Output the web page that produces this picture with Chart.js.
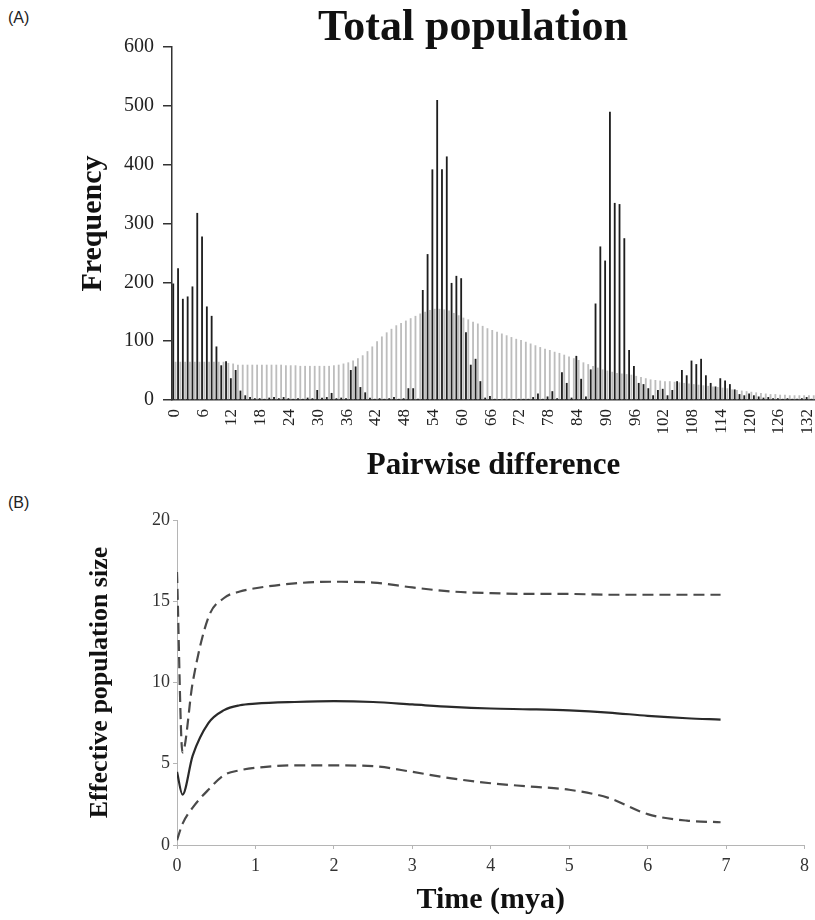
<!DOCTYPE html>
<html>
<head>
<meta charset="utf-8">
<script src="https://cdn.jsdelivr.net/npm/chart.js@4.4.1/dist/chart.umd.min.js"></script>
<style>
    html, body { margin: 0; padding: 0; background: #fff; }
    #page { position: relative; width: 815px; height: 920px; overflow: hidden; }
    .panel-tag { position: absolute; left: 8px; font: 16px 'Liberation Sans', Arial, sans-serif; color: #222; }
    #boxA { position: absolute; left: 0; top: 0; width: 815px; height: 490px; }
    #boxB { position: absolute; left: 0; top: 490px; width: 815px; height: 430px; }
</style>
</head>
<body>
<div id="page">
    <div class="panel-tag" style="top:9px">(A)</div>
    <div class="panel-tag" style="top:494px">(B)</div>
    <div id="boxA"><canvas id="mismatch"></canvas></div>
    <div id="boxB"><canvas id="skyline"></canvas></div>
</div>
<script>
// (A) mismatch distribution, pairwise differences 0..133
const pairwiseDiff = [];
for (let i = 0; i <= 133; i++) pairwiseDiff.push(String(i));

const observedFreq = [
    198, 224, 172, 176, 193, 318, 278, 159, 143, 91,
    59, 66, 37, 51, 16, 8, 5, 3, 3, 2,
    4, 5, 3, 5, 3, 2, 3, 2, 4, 3,
    17, 4, 5, 12, 3, 4, 3, 51, 57, 22,
    13, 4, 2, 3, 2, 3, 5, 2, 3, 20,
    20, 2, 187, 248, 392, 510, 392, 414, 199, 211,
    207, 115, 60, 70, 32, 4, 7, 2, 1, 2,
    2, 1, 2, 2, 2, 5, 11, 2, 6, 15,
    3, 47, 29, 4, 75, 36, 6, 52, 164, 261,
    237, 490, 335, 333, 275, 85, 58, 29, 27, 20,
    8, 17, 19, 8, 17, 32, 51, 42, 67, 61,
    70, 42, 29, 23, 37, 33, 27, 18, 10, 8,
    11, 8, 6, 4, 5, 3, 3, 2, 3, 2,
    2, 3, 5, 2
];

const expectedFreq = [
    65, 65, 65, 65, 65, 65, 65, 65, 65, 65,
    65, 63, 62, 60, 60, 60, 60, 60, 60, 60,
    60, 60, 60, 59, 59, 59, 58, 58, 58, 58,
    58, 58, 58, 59, 60, 62, 64, 67, 71, 76,
    83, 91, 100, 108, 115, 121, 127, 131, 135, 139,
    143, 147, 150, 153, 155, 155, 154, 152, 148, 144,
    140, 137, 133, 130, 126, 122, 119, 116, 113, 110,
    107, 104, 102, 99, 96, 93, 90, 87, 85, 82,
    80, 77, 74, 71, 68, 64, 61, 58, 55, 52,
    50, 48, 46, 45, 44, 43, 41, 39, 37, 35,
    34, 33, 32, 32, 31, 30, 29, 28, 27, 26,
    25, 24, 23, 22, 21, 20, 18, 17, 16, 15,
    14, 13, 12, 11, 10, 10, 9, 9, 8, 8,
    8, 8, 8, 8
];

// (B) Bayesian skyline, time in million years
const timeMya = [0, 0.07, 0.2, 0.4, 0.6, 0.8, 1.0, 1.5, 2.0, 2.5, 3.0, 3.5, 4.0, 4.5, 5.0, 5.5, 6.0, 6.5, 6.93];
const medianNe = [4.5, 3.1, 5.5, 7.5, 8.3, 8.6, 8.7, 8.8, 8.85, 8.8, 8.65, 8.5, 8.4, 8.35, 8.28, 8.15, 7.95, 7.8, 7.72];
const upperNe = [16.8, 5.7, 10.0, 14.0, 15.2, 15.6, 15.8, 16.1, 16.2, 16.15, 15.85, 15.6, 15.5, 15.45, 15.45, 15.4, 15.4, 15.4, 15.4];
const lowerNe = [0.3, 1.3, 2.3, 3.4, 4.3, 4.6, 4.75, 4.9, 4.9, 4.85, 4.5, 4.1, 3.8, 3.6, 3.4, 2.9, 1.9, 1.5, 1.4];

const serif = "'Liberation Serif', 'Times New Roman', serif";

const freeText = {
    id: 'freeText',
    afterDraw(chart, args, opts) {
        if (!opts.text) {
            return;
        }
        const ctx = chart.ctx;
        ctx.save();
        ctx.font = opts.font;
        ctx.fillStyle = opts.color || '#111';
        ctx.textAlign = 'center';
        ctx.textBaseline = 'middle';
        ctx.fillText(opts.text, opts.x, opts.y);
        ctx.restore();
    },
};

Chart.register(freeText);
Chart.defaults.animation = false;
Chart.defaults.font.family = serif;

new Chart(document.getElementById('mismatch'), {
    type: 'bar',
    data: {
        labels: pairwiseDiff,
        datasets: [
            {
                label: 'Observed',
                data: observedFreq,
                backgroundColor: '#1e1e1e',
                categoryPercentage: 0.95,
                barPercentage: 0.8,
            },
            {
                label: 'Expected',
                data: expectedFreq,
                backgroundColor: '#bdbdbd',
                categoryPercentage: 0.95,
                barPercentage: 0.8,
            },
        ],
    },
    options: {
        responsive: true,
        maintainAspectRatio: false,
        layout: { padding: { top: 47, left: 0, right: 0, bottom: 0 } },
        plugins: {
            legend: { display: false },
            tooltip: { enabled: false },
            freeText: { text: 'Total population', font: 'bold 44px ' + serif, x: 473, y: 29, color: '#111' },
        },
        scales: {
            x: {
                grid: { display: false, drawTicks: false },
                border: { display: true, color: '#333', width: 1.5 },
                ticks: {
                    autoSkip: false,
                    minRotation: 90,
                    maxRotation: 90,
                    padding: 9,
                    color: '#222',
                    font: { size: 17 },
                    callback(value, index) {
                        return index % 6 === 0 ? this.getLabelForValue(value) : '';
                    },
                },
                title: {
                    display: true,
                    text: 'Pairwise difference',
                    color: '#111',
                    font: { size: 31, weight: 'bold', lineHeight: 1 },
                    padding: { top: 0, bottom: 9 },
                },
                afterFit(scale) {
                    scale.height = 90;
                    scale.paddingLeft = 0;
                    scale.paddingRight = 0;
                },
            },
            y: {
                min: 0,
                max: 600,
                ticks: { stepSize: 100, color: '#222', padding: 9, font: { size: 20 } },
                grid: { drawOnChartArea: false, tickLength: 9, color: '#333', lineWidth: 1.5 },
                border: { display: true, color: '#333', width: 1.5 },
                title: {
                    display: true,
                    text: 'Frequency',
                    color: '#111',
                    font: { size: 30, weight: 'bold', lineHeight: 1 },
                    padding: { top: 78, bottom: 0 },
                },
                afterFit(scale) { scale.width = 172; },
            },
        },
    },
});

const toPoints = (ys) => ys.map((y, i) => ({ x: timeMya[i], y }));

new Chart(document.getElementById('skyline'), {
    type: 'line',
    data: {
        datasets: [
            {
                label: 'Upper 95% HPD',
                data: toPoints(upperNe),
                borderColor: '#4a4a4a',
                borderWidth: 2.2,
                borderDash: [11, 6],
                pointRadius: 0,
                cubicInterpolationMode: 'monotone',
            },
            {
                label: 'Median',
                data: toPoints(medianNe),
                borderColor: '#2a2a2a',
                borderWidth: 2.2,
                pointRadius: 0,
                cubicInterpolationMode: 'monotone',
            },
            {
                label: 'Lower 95% HPD',
                data: toPoints(lowerNe),
                borderColor: '#4a4a4a',
                borderWidth: 2.2,
                borderDash: [11, 6],
                pointRadius: 0,
                cubicInterpolationMode: 'monotone',
            },
        ],
    },
    options: {
        responsive: true,
        maintainAspectRatio: false,
        layout: { padding: { top: 30, left: 0, right: 10, bottom: 0 } },
        plugins: {
            legend: { display: false },
            tooltip: { enabled: false },
        },
        scales: {
            x: {
                type: 'linear',
                min: 0,
                max: 8,
                ticks: { stepSize: 1, color: '#333', padding: 6, font: { size: 18 } },
                grid: { drawOnChartArea: false, tickLength: 4, color: '#b5b5b5' },
                border: { display: true, color: '#b5b5b5', width: 1 },
                title: {
                    display: true,
                    text: 'Time (mya)',
                    color: '#111',
                    font: { size: 30, weight: 'bold', lineHeight: 1 },
                    padding: { top: 0, bottom: 5 },
                },
                afterFit(scale) { scale.height = 75; },
            },
            y: {
                min: 0,
                max: 20,
                ticks: { stepSize: 5, color: '#333', padding: 3, font: { size: 18 } },
                grid: { drawOnChartArea: false, tickLength: 4, color: '#b5b5b5' },
                border: { display: true, color: '#b5b5b5', width: 1 },
                title: {
                    display: true,
                    text: 'Effective population size',
                    color: '#111',
                    font: { size: 26, weight: 'bold', lineHeight: 1 },
                    padding: { top: 87, bottom: 0 },
                },
                afterFit(scale) { scale.width = 177; },
            },
        },
    },
});
</script>
</body>
</html>
